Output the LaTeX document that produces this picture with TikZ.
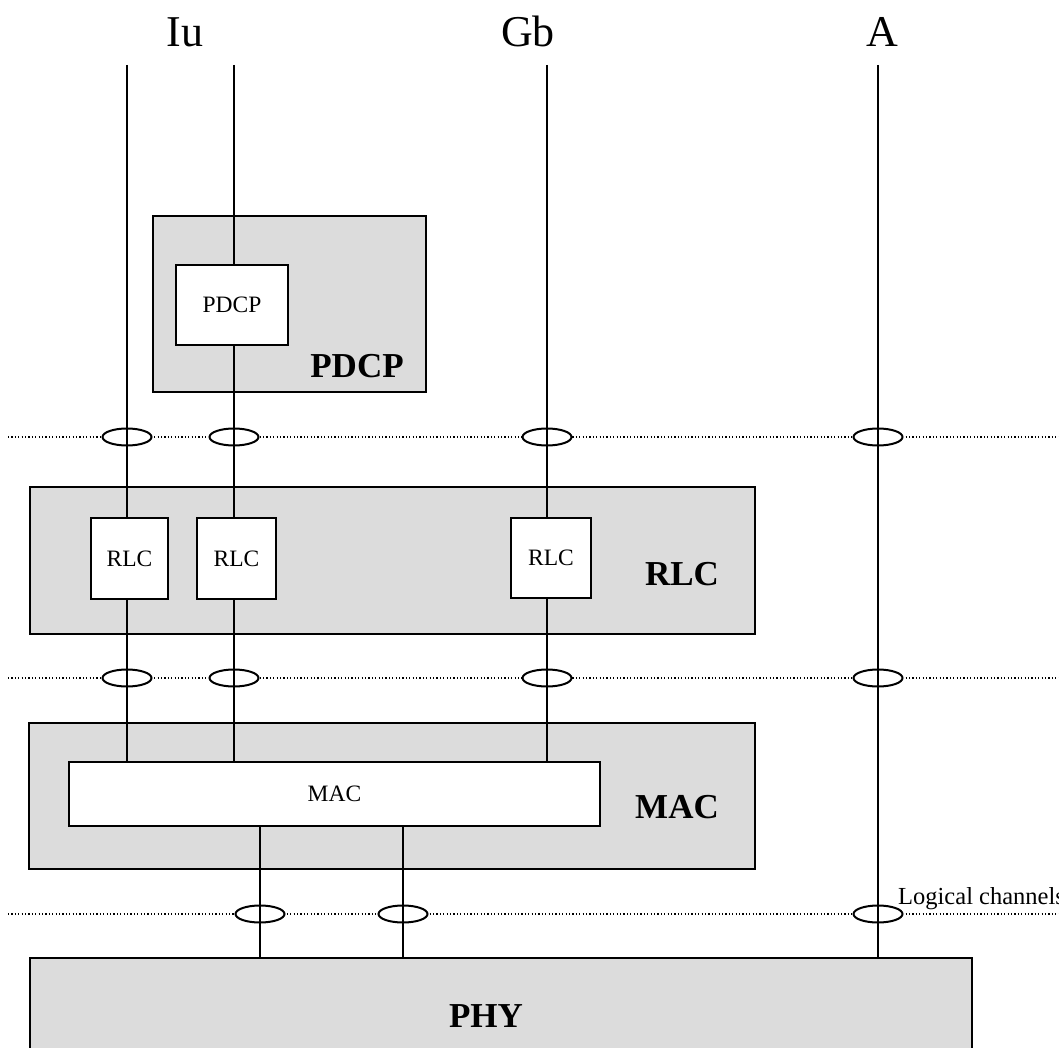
\documentclass[tikz,border=0pt]{standalone}
\usepackage{fontspec}
\setmainfont{Liberation Serif}
\usetikzlibrary{shapes.geometric}
\definecolor{boxgray}{RGB}{220,220,220}
\begin{document}
\begin{tikzpicture}[x=1pt,y=-1pt,
  layerbox/.style={draw, fill=boxgray, line width=1.7pt, inner sep=0pt, outer sep=0pt, anchor=north west},
  entity/.style={draw, fill=white, line width=1.7pt, inner sep=0pt, outer sep=0pt, anchor=north west, font=\fontsize{23.5}{26}\selectfont},
  biglabel/.style={anchor=base, inner sep=0pt, font=\fontsize{35}{40}\selectfont\bfseries},
  iface/.style={anchor=base, inner sep=0pt, font=\fontsize{44}{50}\selectfont},
  smalltext/.style={inner sep=0pt, font=\fontsize{24.5}{27}\selectfont},
  sap/.style={ellipse, draw, fill=white, line width=2pt, minimum width=49pt, minimum height=17pt, inner sep=0pt},
  chan/.style={line width=1.5pt},
  dotline/.style={line width=1.2pt, dash pattern=on 1.2pt off 2.2pt}
]
\useasboundingbox (0,0) rectangle (1059,1048);

% interface labels
\node[iface] (iu) at (185,47) {Iu};
\node[iface] (gb) at (528,47) {Gb};
\node[iface] (a) at (882,47) {A};

% top ends of channels
\coordinate (t1) at (127,65);
\coordinate (t2) at (234,65);
\coordinate (t3) at (547,65);
\coordinate (t4) at (878,65);
\coordinate (t5) at (260,65);
\coordinate (t6) at (403,65);

% dotted SAP lines
\coordinate (d1l) at (8,437);  \coordinate (d1r) at (1059,437);
\coordinate (d2l) at (8,678);  \coordinate (d2r) at (1059,678);
\coordinate (d3l) at (8,914);  \coordinate (d3r) at (1059,914);
\draw[dotline] (d1l) -- (d1r);
\draw[dotline] (d2l) -- (d2r);
\draw[dotline] (d3l) -- (d3r);

% layer boxes
\node[layerbox, minimum width=273pt, minimum height=176pt] (pdcpL) at (153,216) {};
\node[layerbox, minimum width=725pt, minimum height=147pt] (rlcL) at (30,487) {};
\node[layerbox, minimum width=726pt, minimum height=146pt] (macL) at (29,723) {};
\node[layerbox, minimum width=942pt, minimum height=110pt] (phyL) at (30,958) {};

\node[biglabel] (pdcpT) at (357,377) {PDCP};
\node[biglabel] (rlcT) at (682,585) {RLC};
\node[biglabel] (macT) at (677,818) {MAC};
\node[biglabel] (phyT) at (486,1027) {PHY};

% entities
\node[entity, minimum width=112pt, minimum height=80pt] (pdcp1) at (176,265) {PDCP};
\node[entity, minimum width=77pt, minimum height=81pt] (rlc1) at (91,518) {RLC};
\node[entity, minimum width=79pt, minimum height=81pt] (rlc2) at (197,518) {RLC};
\node[entity, minimum width=80pt, minimum height=80pt] (rlc3) at (511,518) {RLC};
\node[entity, minimum width=531pt, minimum height=64pt] (mac1) at (69,762) {MAC};

% SAP ellipses
\node[sap] (s11) at (127,437) {};
\node[sap] (s12) at (234,437) {};
\node[sap] (s13) at (547,437) {};
\node[sap] (s14) at (878,437) {};
\node[sap] (s21) at (127,678) {};
\node[sap] (s22) at (234,678) {};
\node[sap] (s23) at (547,678) {};
\node[sap] (s24) at (878,678) {};
\node[sap] (s31) at (260,914) {};
\node[sap] (s32) at (403,914) {};
\node[sap] (s34) at (878,914) {};

\node[smalltext, anchor=base west] (lc) at (898,904) {Logical channels};

% channels
\draw[chan] (t1) -- (t1 |- rlc1.north);
\draw[chan] (t1 |- rlc1.south) -- (t1 |- mac1.north);
\draw[chan] (t2) -- (t2 |- pdcp1.north);
\draw[chan] (t2 |- pdcp1.south) -- (t2 |- rlc2.north);
\draw[chan] (t2 |- rlc2.south) -- (t2 |- mac1.north);
\draw[chan] (t3) -- (t3 |- rlc3.north);
\draw[chan] (t3 |- rlc3.south) -- (t3 |- mac1.north);
\draw[chan] (t4) -- (t4 |- phyL.north);
\draw[chan] (t5 |- mac1.south) -- (t5 |- phyL.north);
\draw[chan] (t6 |- mac1.south) -- (t6 |- phyL.north);
\end{tikzpicture}
\end{document}
